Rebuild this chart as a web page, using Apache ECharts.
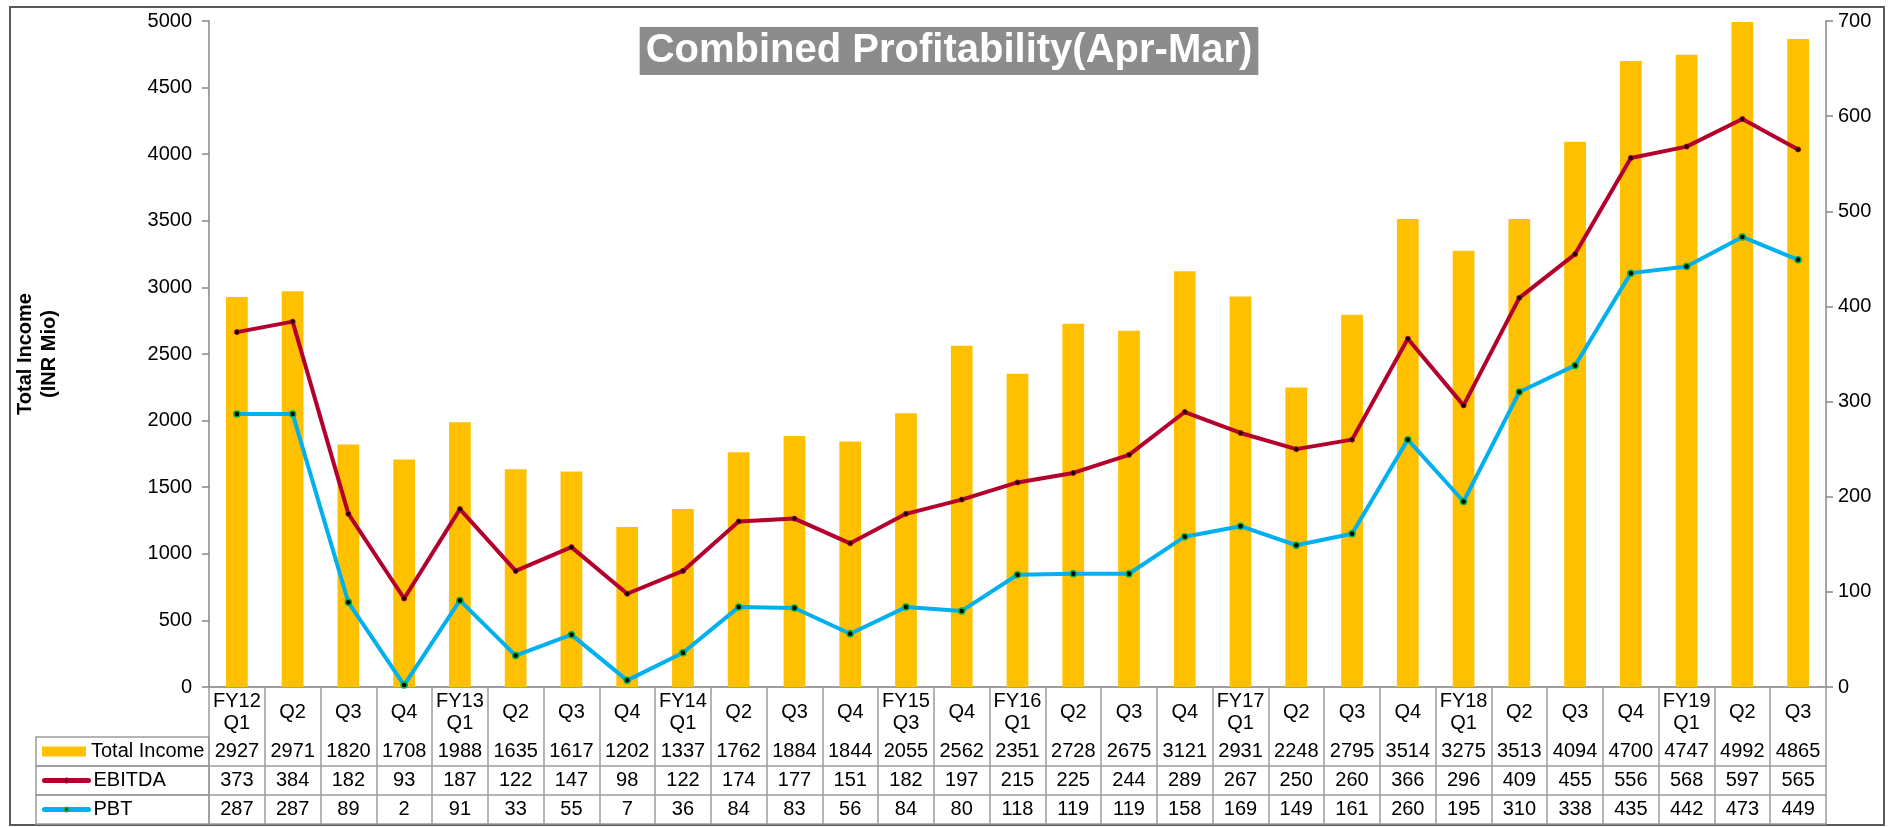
<!DOCTYPE html>
<html>
<head>
<meta charset="utf-8">
<script src="https://cdn.jsdelivr.net/npm/echarts@6/dist/echarts.min.js"></script>
<style>
  html, body { margin: 0; padding: 0; background: #fff; }
  #main { width: 1898px; height: 827px; }
</style>
</head>
<body>
<div id="main"></div>
<script>
// quarter labels (two lines where a new FY starts)
var categories = ['FY12\nQ1', 'Q2', 'Q3', 'Q4', 'FY13\nQ1', 'Q2', 'Q3', 'Q4', 'FY14\nQ1', 'Q2', 'Q3', 'Q4',
  'FY15\nQ3', 'Q4', 'FY16\nQ1', 'Q2', 'Q3', 'Q4', 'FY17\nQ1', 'Q2', 'Q3', 'Q4', 'FY18\nQ1', 'Q2', 'Q3', 'Q4',
  'FY19\nQ1', 'Q2', 'Q3'];
var totalIncome = [2927, 2971, 1820, 1708, 1988, 1635, 1617, 1202, 1337, 1762, 1884, 1844, 2055, 2562, 2351,
  2728, 2675, 3121, 2931, 2248, 2795, 3514, 3275, 3513, 4094, 4700, 4747, 4992, 4865];
var ebitda = [373, 384, 182, 93, 187, 122, 147, 98, 122, 174, 177, 151, 182, 197, 215, 225, 244, 289, 267,
  250, 260, 366, 296, 409, 455, 556, 568, 597, 565];
var pbt = [287, 287, 89, 2, 91, 33, 55, 7, 36, 84, 83, 56, 84, 80, 118, 119, 119, 158, 169, 149, 161, 260,
  195, 310, 338, 435, 442, 473, 449];

var font = 'Liberation Sans, Arial, sans-serif';
var gridLine = '#9c9c9c';
var axisGrey = '#868686';
var tableTop = 737;  // first data row of the table
var rowH = 29;       // height of a data row in the table
var headH = 50;      // height of the quarter row

// one extra x axis per table row, it only prints the numbers under each bar
function rowAxis(offset, values) {
  return {
    type: 'category',
    data: categories,
    position: 'bottom',
    offset: offset,
    axisLine: { show: true, lineStyle: { color: gridLine, width: 1.5 } },
    axisTick: { show: false },
    axisLabel: {
      show: !!values,
      interval: 0,
      margin: rowH / 2,
      verticalAlign: 'middle',
      color: '#000',
      fontSize: 20,
      fontFamily: font,
      formatter: function (v, i) { return values ? String(values[i]) : ''; }
    }
  };
}

var legendText = { color: '#000', fontSize: 20, fontFamily: font, lineHeight: 20 };

var chart = echarts.init(document.getElementById('main'));

var option = {
  backgroundColor: '#fff',
  animation: false,
  title: {
    text: 'Combined Profitability(Apr-Mar)',
    left: 'center',
    top: 27,
    backgroundColor: '#8c8c8c',
    padding: [3, 6],
    textStyle: { color: '#fff', fontSize: 40, fontWeight: 'bold', fontFamily: font, lineHeight: 42 }
  },
  legend: [
    {
      orient: 'vertical',
      left: 42,
      top: tableTop + 4.5,
      padding: 0,
      itemWidth: 44,
      itemHeight: 10,
      textStyle: legendText,
      data: [{ name: 'Total Income', icon: 'rect' }]
    },
    {
      orient: 'vertical',
      left: 42,
      top: tableTop + rowH + 4.5,
      padding: 0,
      itemGap: 9,
      itemWidth: 44,
      itemHeight: 5,
      lineStyle: { width: 5, cap: 'round' },
      textStyle: legendText,
      data: ['EBITDA', 'PBT']
    }
  ],
  grid: { left: 209, right: 72, top: 21, bottom: 140 },
  xAxis: [
    {
      type: 'category',
      data: categories,
      position: 'bottom',
      axisLine: { show: true, lineStyle: { color: axisGrey, width: 1.5 } },
      axisTick: { show: true, interval: 0, length: headH + rowH * 3, lineStyle: { color: gridLine, width: 1.5 } },
      axisLabel: {
        interval: 0,
        margin: headH / 2,
        verticalAlign: 'middle',
        color: '#000',
        fontSize: 20,
        lineHeight: 22,
        fontFamily: font
      }
    },
    rowAxis(headH, totalIncome),
    rowAxis(headH + rowH, ebitda),
    rowAxis(headH + rowH * 2, pbt),
    rowAxis(headH + rowH * 3, null)
  ],
  yAxis: [
    {
      type: 'value',
      min: 0,
      max: 5000,
      interval: 500,
      name: 'Total Income\n(INR Mio)',
      nameLocation: 'middle',
      nameGap: 148,
      nameTextStyle: { color: '#000', fontSize: 20, fontWeight: 'bold', fontFamily: font, lineHeight: 24 },
      axisLine: { show: true, lineStyle: { color: axisGrey, width: 1.5 } },
      axisTick: { show: true, length: 7, lineStyle: { color: axisGrey, width: 1.5 } },
      splitLine: { show: false },
      axisLabel: { color: '#000', fontSize: 20, fontFamily: font, margin: 17, formatter: function (v) { return String(v); } }
    },
    {
      type: 'value',
      min: 0,
      max: 700,
      interval: 100,
      position: 'right',
      axisLine: { show: true, lineStyle: { color: axisGrey, width: 1.5 } },
      axisTick: { show: true, length: 7, lineStyle: { color: axisGrey, width: 1.5 } },
      splitLine: { show: false },
      axisLabel: { color: '#000', fontSize: 20, fontFamily: font, margin: 12 }
    }
  ],
  series: [
    {
      name: 'Total Income',
      type: 'bar',
      barWidth: '39%',
      itemStyle: { color: '#ffc000' },
      data: totalIncome
    },
    {
      name: 'EBITDA',
      type: 'line',
      yAxisIndex: 1,
      symbol: 'circle',
      symbolSize: 5,
      lineStyle: { color: '#b4002c', width: 4 },
      itemStyle: { color: '#000', borderColor: '#b4002c', borderWidth: 1 },
      data: ebitda
    },
    {
      name: 'PBT',
      type: 'line',
      yAxisIndex: 1,
      symbol: 'circle',
      symbolSize: 6,
      lineStyle: { color: '#00b0f0', width: 4 },
      itemStyle: { color: '#000', borderColor: '#00b050', borderWidth: 1.5 },
      data: pbt
    }
  ],
  graphic: [
    // outer frame
    { type: 'rect', shape: { x: 10, y: 7, width: 1874, height: 818 }, style: { fill: 'none', stroke: '#595959', lineWidth: 2 }, silent: true },
    // legend cells of the data table
    { type: 'rect', shape: { x: 36, y: tableTop, width: 173, height: rowH }, style: { fill: 'none', stroke: gridLine, lineWidth: 1.5 }, silent: true },
    { type: 'rect', shape: { x: 36, y: tableTop + rowH, width: 173, height: rowH }, style: { fill: 'none', stroke: gridLine, lineWidth: 1.5 }, silent: true },
    { type: 'rect', shape: { x: 36, y: tableTop + rowH * 2, width: 173, height: rowH }, style: { fill: 'none', stroke: gridLine, lineWidth: 1.5 }, silent: true }
  ]
};

chart.setOption(option);
</script>
</body>
</html>
